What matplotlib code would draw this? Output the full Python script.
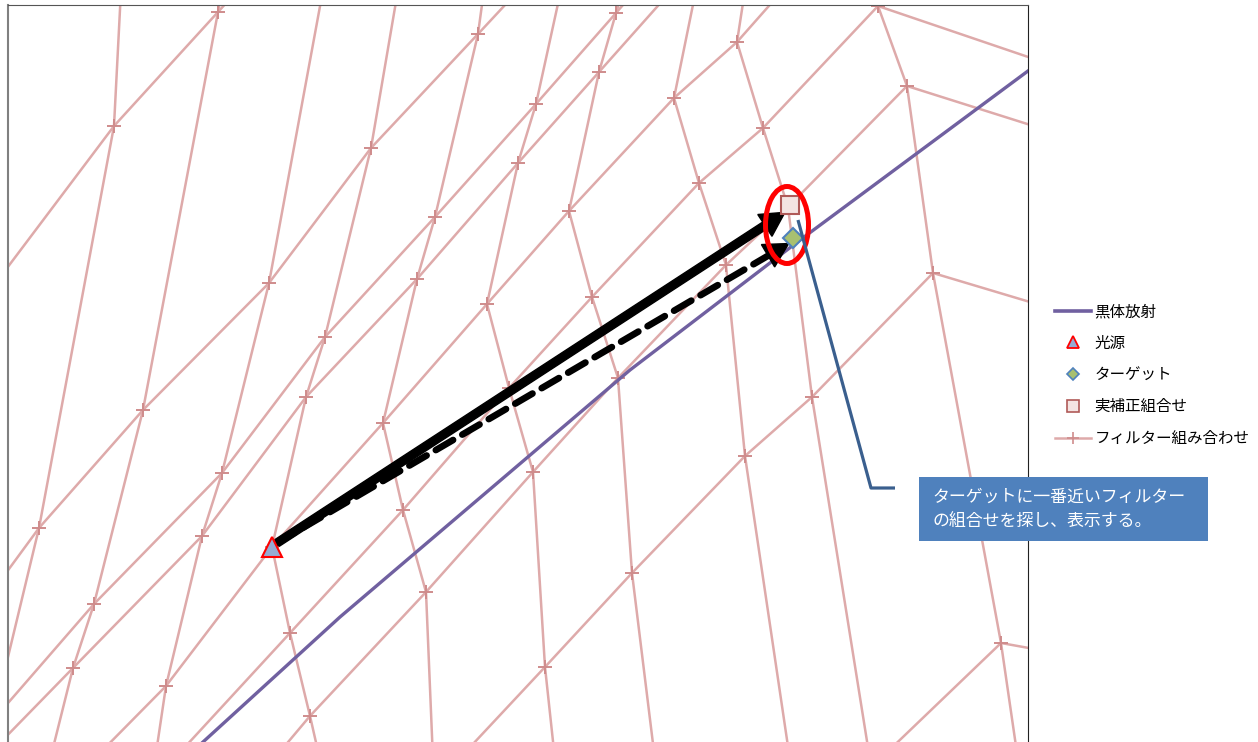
import numpy as np
import matplotlib
matplotlib.use('Agg')
import matplotlib.pyplot as plt
from matplotlib.patches import Ellipse, Rectangle
from matplotlib.lines import Line2D

plt.rcParams['font.family'] = ['Noto Sans CJK JP', 'DejaVu Sans']

nan = np.nan
# ---- filter-combination mesh nodes (chart units): rows = steep lines S1..S10, cols = diagonal lines D1..D9
mesh_x = [
    [114, 39, nan, nan, nan, nan, nan, nan, nan],
    [218, 143, 94, 73, nan, nan, nan, nan, nan],
    [nan, 269, 222, 202, 166, nan, nan, nan, nan],
    [nan, 371, 325, 306, 272, 290, 310, nan, nan],
    [nan, 478, 435, 417, 383, 403, 426, nan, nan],
    [nan, nan, 536, 518, 487, 509, 533, 545, nan],
    [nan, nan, 616, 599, 569, 592, 618, 632, nan],
    [nan, nan, nan, nan, 674, 699, 726, 745, nan],
    [nan, nan, nan, nan, 737, 763, 788, 812, nan],
    [nan, nan, nan, nan, nan, 878, 907, 933, 1001],
]
mesh_y = [
    [126, 528, nan, nan, nan, nan, nan, nan, nan],
    [12, 410, 604, 668, nan, nan, nan, nan, nan],
    [nan, 283, 473, 536, 686, nan, nan, nan, nan],
    [nan, 148, 337, 397, 547, 633, 716, nan, nan],
    [nan, 34, 217, 279, 423, 510, 592, nan, nan],
    [nan, nan, 104, 163, 304, 388, 472, 667, nan],
    [nan, nan, 13, 72, 211, 297, 378, 573, nan],
    [nan, nan, nan, nan, 98, 183, 265, 456, nan],
    [nan, nan, nan, nan, 42, 128, 207, 397, nan],
    [nan, nan, nan, nan, nan, 6, 86, 273, 643],
]
# mesh line continuations beyond the visible region
steep_top = [(121, -10), (222, -10), (323, -10), (398, -10), (484, -10),
             (561, -10), (623, -10), (696, -10), (745, -10), (872, -10)]
steep_bottom = [(-5, 711), (50, 760), (155, 760), (320, 760), (433, 760),
                (555, 760), (655, 760), (790, 760), (870, 760), (1018, 760)]
diag_start = [(-5, 284), (-5, 588), (-5, 718), (-5, 748), (93, 760),
              (173, 760), (273, 760), (458, 760), (879, 760)]
diag_end = [(238, -10), (519, -10), (636, -10), (672, -10), (783, -10),
            (1040, 61), (1040, 128), (1040, 305), (1040, 650)]

# blackbody locus
bb_x = [203, 340, 630, 800, 1032]
bb_y = [742, 617, 370, 240, 68]

source_xy = (272, 547)
target_xy = (793, 238)
best_xy = (790, 205)

labels = ['黒体放射', '光源', 'ターゲット', '実補正組合せ', 'フィルター組み合わせ']
callout_lines = ['ターゲットに一番近いフィルター', 'の組合せを探し、表示する。']

W, H = 1258, 742
fig = plt.figure(figsize=(W / 100, H / 100), dpi=100)
ax = fig.add_axes([8 / W, 0, 1020 / W, 737 / H])
ax.set_xlim(8, 1028)
ax.set_ylim(742, 5)
ax.set_xticks([])
ax.set_yticks([])
ax.spines['bottom'].set_visible(False)
ax.spines['left'].set_color('#808080')
ax.spines['left'].set_linewidth(1.5)
ax.spines['top'].set_color('#555555')
ax.spines['right'].set_color('#222222')

mesh_color = '#DEAAAA'
node_color = '#CF8C8C'
mx = np.array(mesh_x, dtype=float)
my = np.array(mesh_y, dtype=float)
ns, nd = mx.shape
for i in range(ns):
    ok = ~np.isnan(mx[i])
    xs = [steep_top[i][0]] + list(mx[i][ok]) + [steep_bottom[i][0]]
    ys = [steep_top[i][1]] + list(my[i][ok]) + [steep_bottom[i][1]]
    ax.plot(xs, ys, color=mesh_color, lw=1.8, zorder=1)
for j in range(nd):
    ok = ~np.isnan(mx[:, j])
    xs = [diag_start[j][0]] + list(mx[ok, j]) + [diag_end[j][0]]
    ys = [diag_start[j][1]] + list(my[ok, j]) + [diag_end[j][1]]
    ax.plot(xs, ys, color=mesh_color, lw=1.8, zorder=1)
ok = ~np.isnan(mx)
ax.plot(mx[ok], my[ok], '+', color=node_color, ms=10, mew=1.4, zorder=1.5)

bb_color = '#7060A0'
ax.plot(bb_x, bb_y, color=bb_color, lw=2.4, zorder=2)

# arrows from source
def unit(a, b):
    v = np.array(b, float) - np.array(a, float)
    return v / np.hypot(*v)

start = np.array(source_xy, float) + np.array([5, -4])
u1 = unit(start, best_xy)
tip1 = np.array(best_xy, float) - u1 * 6 + np.array([0, 4])
ax.arrow(start[0], start[1], tip1[0] - start[0], tip1[1] - start[1], width=8,
         head_width=26, head_length=24, length_includes_head=True,
         color='black', zorder=3)
u2 = unit(start, target_xy)
tip2 = np.array(target_xy, float) - u2 * 5 + np.array([0, 3])
base2 = tip2 - u2 * 20
ax.plot([start[0], base2[0]], [start[1], base2[1]], color='black', lw=4.8,
        dashes=(3.0, 1.6), dash_capstyle='round', zorder=3)
ax.arrow(base2[0] - u2[0] * 2, base2[1] - u2[1] * 2, tip2[0] - base2[0] + u2[0] * 2,
         tip2[1] - base2[1] + u2[1] * 2, width=0.5, head_width=26, head_length=24,
         length_includes_head=True, color='black', zorder=3)

# markers
ax.plot(*best_xy, 's', ms=13, mfc='#F4E4E2', mec='#B05A58', mew=1.5, zorder=5)
ax.plot(*target_xy, 'D', ms=10, mfc='#A8C070', mec='#4F81BD', mew=1.5, zorder=5)
ax.plot(*source_xy, '^', ms=14, mfc='#95ABD3', mec='#FF0000', mew=1.5, zorder=5)

# highlight ellipse
ax.add_patch(Ellipse((787, 225), 43, 77, fill=False, ec='#FF0000', lw=3.6, zorder=6))

# callout line
call_color = '#3A5F8E'
ax.plot([798, 871, 895], [220, 488, 488], color=call_color, lw=2.3, zorder=6,
        solid_capstyle='butt', clip_on=False)

# callout box
fig.patches.append(Rectangle((919 / W, 1 - 541 / H), 289 / W, 64 / H,
                             transform=fig.transFigure, fc='#4F81BD', ec='none', zorder=7))
fig.text(932 / W, 1 - 497 / H, callout_lines[0], color='white', fontsize=12.2,
         va='center', ha='left', zorder=8)
fig.text(932 / W, 1 - 522 / H, callout_lines[1], color='white', fontsize=12.2,
         va='center', ha='left', zorder=8)

# legend
handles = [
    Line2D([], [], color=bb_color, lw=2.6),
    Line2D([], [], ls='none', marker='^', ms=8.5, mfc='#95ABD3', mec='#FF0000', mew=1.3),
    Line2D([], [], ls='none', marker='D', ms=6, mfc='#A8C070', mec='#4F81BD', mew=1.2),
    Line2D([], [], ls='none', marker='s', ms=8, mfc='#F4E4E2', mec='#B05A58', mew=1.2),
    Line2D([], [], color=mesh_color, lw=1.8, marker='+', ms=8, mec=node_color, mew=1.2),
]
fig.legend(handles, labels, loc='upper left', bbox_to_anchor=(1055 / W, 1 - 303 / H),
           frameon=False, fontsize=11.2, borderpad=0, borderaxespad=0,
           handlelength=2.3, handletextpad=0.25, labelspacing=0.95, numpoints=1)

fig.savefig('out.png', dpi=100)
